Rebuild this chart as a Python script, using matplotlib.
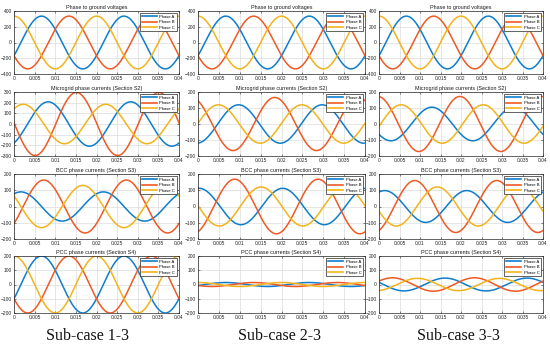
import numpy as np
import matplotlib
matplotlib.use("Agg")
import matplotlib.pyplot as plt

# ---------------- data ----------------
freq_hz = 50.0
t_end = 0.04
phase_names = ["Phase A", "Phase B", "Phase C"]
titles = ["Phase to ground voltages",
          "Microgrid phase currents (Section S2)",
          "BCC phase currents (Section S3)",
          "PCC phase currents (Section S4)"]
subcase_labels = ["Sub-case 1-3", "Sub-case 2-3", "Sub-case 3-3"]

# peak amplitudes [col] -> (A, B, C)
amp_voltage = [[335, 335, 335], [335, 335, 335], [335, 335, 335]]
amp_microgrid = [[208, 296, 185], [120, 166, 120], [105, 172, 120]]
amp_bcc = [[90, 163, 130], [112, 168, 120], [98, 160, 120]]
amp_pcc = [[200, 200, 200], [14, 14, 14], [45, 47, 43]]

# phase angles in degrees at t = 0
ang_voltage = [[-30, -150, 90], [-30, -150, 90], [-30, -150, 90]]
ang_microgrid = [[-59, 178, 50], [-85, 119, 2], [-142, 95, -7]]
ang_bcc = [[60, -40, 150], [85, -68, 178], [65, -67, -166]]
ang_pcc = [[-30, -150, 90], [-30, -150, 90], [160, 31, -79]]

ylims = [[400, 400, 400], [300, 200, 200], [200, 200, 200], [200, 200, 200]]
ysteps = [[200, 200, 200], [100, 100, 100], [100, 100, 100], [100, 100, 100]]
xtick_vals = [0, 0.005, 0.01, 0.015, 0.02, 0.025, 0.03, 0.035, 0.04]
xtick_labels = ["0", "0.005", "0.01", "0.015", "0.02", "0.025", "0.03", "0.035", "0.04"]

amps = [amp_voltage, amp_microgrid, amp_bcc, amp_pcc]
angs = [ang_voltage, ang_microgrid, ang_bcc, ang_pcc]

colors = ["#0F7DCB", "#EE5A24", "#F2B31C"]

# ---------------- layout ----------------
W, H = 550, 347
fig = plt.figure(figsize=(W / 100, H / 100), dpi=100)
col_px = [(14, 179), (198, 365), (379, 543)]
row_px = [(11, 74), (92, 156), (174, 239), (256, 313)]

plt.rcParams["font.family"] = ["Liberation Sans", "DejaVu Sans"]

t = np.linspace(0, t_end, 1201)
w = 2 * np.pi * freq_hz

for r in range(4):
    for c in range(3):
        x0, x1 = col_px[c]
        y0, y1 = row_px[r]
        ax = fig.add_axes([x0 / W, 1 - y1 / H, (x1 - x0) / W, (y1 - y0) / H])
        for k in range(3):
            a = amps[r][c][k]
            ph = np.deg2rad(angs[r][c][k])
            ax.plot(t, a * np.sin(w * t + ph), color=colors[k], lw=1.1,
                    label=phase_names[k])
        lim = ylims[r][c]
        ax.set_xlim(0, t_end)
        ax.set_ylim(-lim, lim)
        ax.set_yticks(np.arange(-lim, lim + 1, ysteps[r][c]))
        ax.set_xticks(xtick_vals)
        ax.set_xticklabels(xtick_labels)
        ax.tick_params(direction="in", length=1.5, width=0.4, labelsize=3.5,
                       pad=1.5, colors="#262626", top=True, right=True,
                       labelright=False, labeltop=False)
        ax.grid(True, color="#dcdcdc", lw=0.5)
        ax.set_axisbelow(True)
        for s in ax.spines.values():
            s.set_linewidth(0.5)
            s.set_color("#262626")
        ax.set_title(titles[r], fontsize=3.9, pad=1.5, color="#1a1a1a")
        leg = ax.legend(loc="upper right", fontsize=3.0, handlelength=3.6,
                        frameon=True, fancybox=False, borderpad=0.4,
                        labelspacing=0.35, handletextpad=0.6,
                        borderaxespad=0.5, framealpha=1.0)
        leg.get_frame().set_edgecolor("#262626")
        leg.get_frame().set_linewidth(0.5)
        for line in leg.get_lines():
            line.set_linewidth(1.2)

centers = [87, 280, 458]
for c in range(3):
    fig.text(centers[c] / W, 1 - 336 / H, subcase_labels[c], ha="center",
             va="center", fontsize=11.5, color="#111111",
             family=["Liberation Serif", "DejaVu Serif"])

fig.savefig("out.png", dpi=100, facecolor="white")
